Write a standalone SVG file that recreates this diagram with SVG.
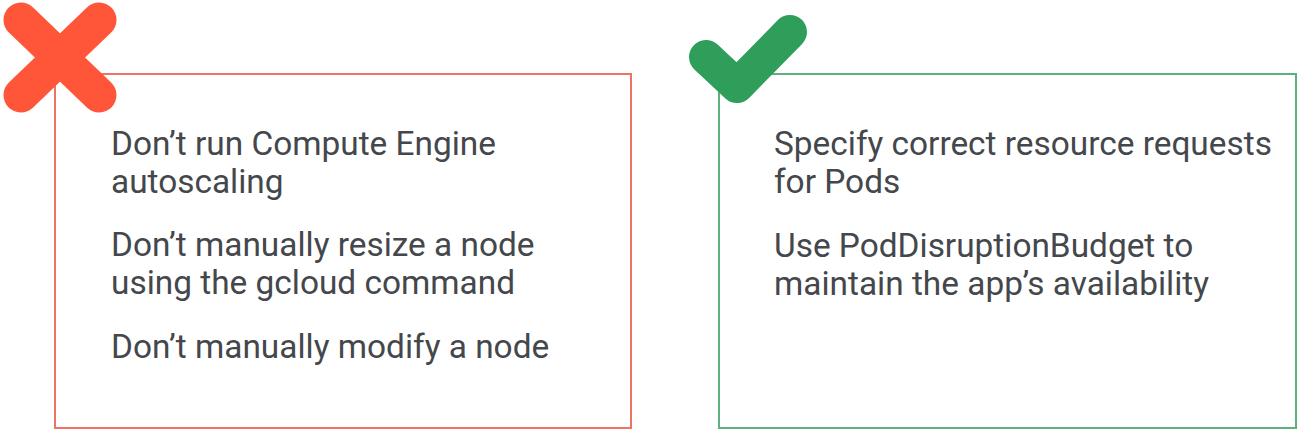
<svg xmlns="http://www.w3.org/2000/svg" width="1303" height="432" viewBox="0 0 1303 432">
<style>
.t{font-family:Roboto,"Liberation Sans",sans-serif;font-size:33.4px;fill:#44474b}
.box{fill:none;stroke-width:2}
</style>
<rect width="1303" height="432" fill="#ffffff"/>
<g id="dont-box">
<rect class="box" x="55" y="74" width="576" height="354" stroke="#ec7462"/>
<text class="t" x="111" y="155">Don’t run Compute Engine</text>
<text class="t" x="111" y="193">autoscaling</text>
<text class="t" x="111" y="256">Don’t manually resize a node</text>
<text class="t" x="111" y="294">using the gcloud command</text>
<text class="t" x="111" y="358">Don’t manually modify a node</text>
</g>
<g id="x-icon">
<path d="M21 20 L99 95 M99 20 L21 95" stroke="#ff5639" stroke-width="35" stroke-linecap="round" fill="none"/>
</g>
<g id="do-box">
<rect class="box" x="719" y="74" width="577" height="354" stroke="#5fb07f"/>
<text class="t" x="774" y="155">Specify correct resource requests</text>
<text class="t" x="774" y="193">for Pods</text>
<text class="t" x="774" y="257">Use PodDisruptionBudget to</text>
<text class="t" x="774" y="295">maintain the app’s availability</text>
</g>
<g id="check-icon">
<path d="M706 57 L737 86 L790 32" stroke="#2e9e5a" stroke-width="34" stroke-linecap="round" stroke-linejoin="round" fill="none"/>
</g>
<g id="connectors"/>
</svg>
